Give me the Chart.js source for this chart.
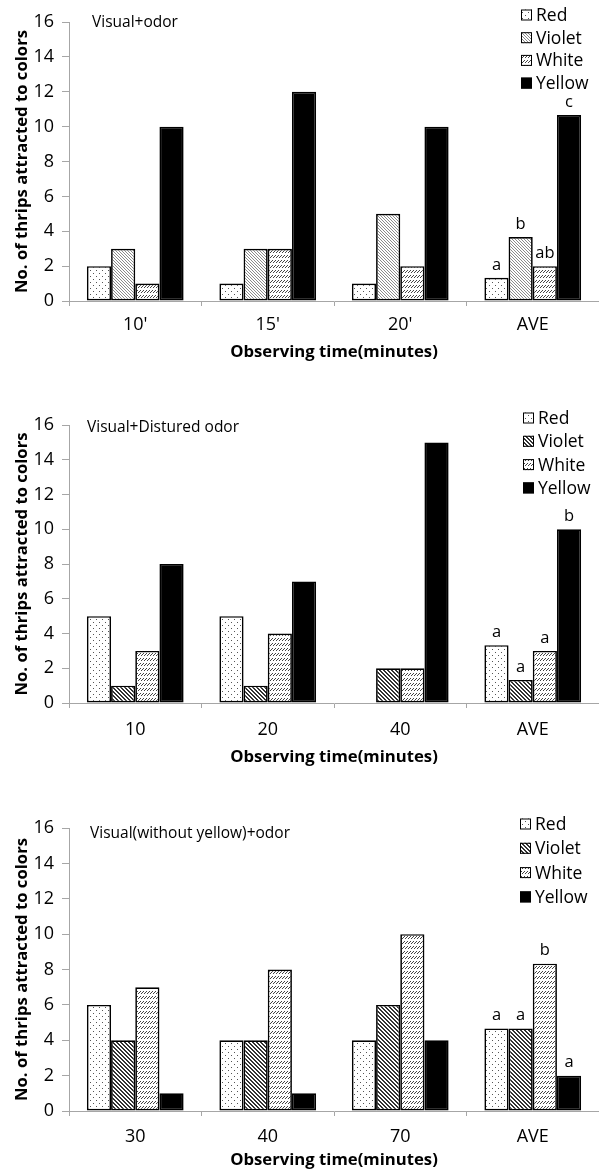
<!DOCTYPE html>
<html lang="en">
<head>
  <meta charset="UTF-8">
  <title>Thrips attracted to colors</title>
  <script src="https://cdn.jsdelivr.net/npm/chart.js"></script>
  <style>
    body { margin: 0; background: #fff; }
    #page { position: relative; width: 599px; height: 1171px; overflow: hidden; }
    .panel { position: absolute; left: 0; width: 599px; }
    canvas { display: block; }
  </style>
</head>
<body>
  <div id="page">
    <div class="panel" style="top:0"><canvas id="c1" width="599" height="372"></canvas></div>
    <div class="panel" style="top:403px"><canvas id="c2" width="599" height="372"></canvas></div>
    <div class="panel" style="top:806px"><canvas id="c3" width="599" height="365"></canvas></div>
  </div>

  <script>
    // data
    const colorNames = ['Red', 'Violet', 'White', 'Yellow'];

    const times1 = ["10'", "15'", "20'", 'AVE'];
    const red1 = [2, 1, 1, 1.33];
    const violet1 = [3, 3, 5, 3.67];
    const white1 = [1, 3, 2, 2];
    const yellow1 = [10, 12, 10, 10.67];
    const letters1 = ['a', 'b', 'ab', 'c'];

    const times2 = ['10', '20', '40', 'AVE'];
    const red2 = [5, 5, 0, 3.33];
    const violet2 = [1, 1, 2, 1.33];
    const white2 = [3, 4, 2, 3];
    const yellow2 = [8, 7, 15, 10];
    const letters2 = ['a', 'a', 'a', 'b'];

    const times3 = ['30', '40', '70', 'AVE'];
    const red3 = [6, 4, 4, 4.67];
    const violet3 = [4, 4, 6, 4.67];
    const white3 = [7, 8, 10, 8.33];
    const yellow3 = [1, 1, 4, 2];
    const letters3 = ['a', 'a', 'b', 'a'];

    const yTicks = [0, 2, 4, 6, 8, 10, 12, 14, 16];

    const FONT = '"Open Sans", "Noto Sans", sans-serif';
    const axisGray = '#a6a6a6';

    // fill patterns like the excel ones
    function makeTile(w, h, draw) {
      const c = document.createElement('canvas');
      c.width = w; c.height = h;
      const g = c.getContext('2d');
      g.fillStyle = '#fff';
      g.fillRect(0, 0, w, h);
      draw(g);
      return g.createPattern(c, 'repeat');
    }
    const dots = makeTile(6, 6, g => {
      g.fillStyle = '#555';
      g.fillRect(0, 0, 1, 1);
      g.fillRect(3, 3, 1, 1);
    });
    const hatchLight = makeTile(3, 3, g => {
      g.fillStyle = '#8c8c8c';
      for (let i = 0; i < 3; i++) g.fillRect(i, i, 1, 1);
    });
    const hatchDark = makeTile(4, 4, g => {
      g.fillStyle = '#333';
      for (let i = 0; i < 4; i++) { g.fillRect(i, i, 1, 1); g.fillRect((i + 1) % 4, i, 1, 1); }
    });
    const dashes = makeTile(3, 5, g => {
      g.fillStyle = '#444';
      g.fillRect(2, 0, 1, 1);
      g.fillRect(1, 1, 1, 1);
      g.fillRect(0, 2, 1, 1);
    });

    function overlay(p) {
      return {
        id: 'overlay',
        afterDraw(chart) {
          const ctx = chart.ctx;
          ctx.save();
          // panel caption
          ctx.fillStyle = '#000';
          ctx.font = '15.5px ' + FONT;
          ctx.textAlign = 'left';
          ctx.textBaseline = 'middle';
          ctx.fillText(p.caption, p.capX, p.capY);

          // legend
          ctx.font = '17.5px ' + FONT;
          chart.data.datasets.forEach((ds, i) => {
            const y = p.legY + i * p.legStep;
            ctx.fillStyle = ds.backgroundColor;
            ctx.fillRect(p.legX, y - 5.5, 11, 11);
            ctx.strokeStyle = '#000';
            ctx.lineWidth = 1;
            ctx.strokeRect(p.legX + 0.5, y - 5, 10, 10);
            ctx.fillStyle = '#000';
            ctx.fillText(ds.label, p.legX + 15, y + 1);
          });

          // significance letters over AVE bars
          ctx.font = '16.5px ' + FONT;
          ctx.textAlign = 'center';
          p.letters.forEach((t, i) => {
            const bar = chart.getDatasetMeta(i).data[3];
            ctx.fillText(t, bar.x, bar.y - 13);
          });
          ctx.restore();
        }
      };
    }

    function makeChart(id, p) {
      const sets = [p.red, p.violet, p.white, p.yellow];
      const fills = [dots, p.violetFill, dashes, '#000'];
      new Chart(document.getElementById(id), {
        type: 'bar',
        data: {
          labels: p.labels,
          datasets: sets.map((d, i) => ({
            label: colorNames[i],
            data: d,
            backgroundColor: fills[i],
            borderColor: '#000',
            borderWidth: 1.7,
            borderSkipped: false,
            categoryPercentage: 0.73,
            barPercentage: 1
          }))
        },
        options: {
          responsive: false,
          animation: false,
          events: [],
          layout: { padding: { top: 22, right: 0, left: 0, bottom: 0 } },
          plugins: {
            legend: { display: false },
            tooltip: { enabled: false }
          },
          scales: {
            x: {
              grid: { drawOnChartArea: false, color: axisGray, tickLength: 5, offset: true },
              border: { color: axisGray },
              ticks: { color: '#000', font: { family: FONT, size: 18 }, padding: p.xPad, maxRotation: 0 },
              title: {
                display: true,
                text: 'Observing time(minutes)',
                color: '#000',
                font: { family: FONT, size: 16.7, weight: 'bold' },
                padding: { top: 0, bottom: p.titlePad }
              },
              afterFit: s => { s.height = p.xHeight; }
            },
            y: {
              min: 0,
              max: 16,
              afterBuildTicks: s => { s.ticks = yTicks.map(v => ({ value: v })); },
              grid: { drawOnChartArea: false, color: axisGray, tickLength: 7 },
              border: { color: axisGray },
              ticks: { color: '#000', font: { family: FONT, size: 18 }, padding: 8 },
              title: {
                display: true,
                text: 'No. of thrips attracted to colors',
                color: '#000',
                font: { family: FONT, size: 16.7, weight: 'bold' },
                padding: { top: 12, bottom: 0 }
              },
              afterFit: s => { s.width = 69; }
            }
          }
        },
        plugins: [overlay(p)]
      });
    }

    makeChart('c1', {
      labels: times1, red: red1, violet: violet1, white: white1, yellow: yellow1,
      letters: letters1, violetFill: hatchLight,
      caption: 'Visual+odor', capX: 92, capY: 23,
      legX: 521, legY: 15, legStep: 22.7,
      xHeight: 71, xPad: 8, titlePad: 10
    });

    makeChart('c2', {
      labels: times2, red: red2, violet: violet2, white: white2, yellow: yellow2,
      letters: letters2, violetFill: hatchDark,
      caption: 'Visual+Distured odor', capX: 87, capY: 25,
      legX: 523, legY: 15, legStep: 23.3,
      xHeight: 72, xPad: 11, titlePad: 8
    });

    makeChart('c3', {
      labels: times3, red: red3, violet: violet3, white: white3, yellow: yellow3,
      letters: letters3, violetFill: hatchDark,
      caption: 'Visual(without yellow)+odor', capX: 90, capY: 28,
      legX: 520, legY: 18, legStep: 24.3,
      xHeight: 60, xPad: 10, titlePad: 1
    });
  </script>
</body>
</html>
